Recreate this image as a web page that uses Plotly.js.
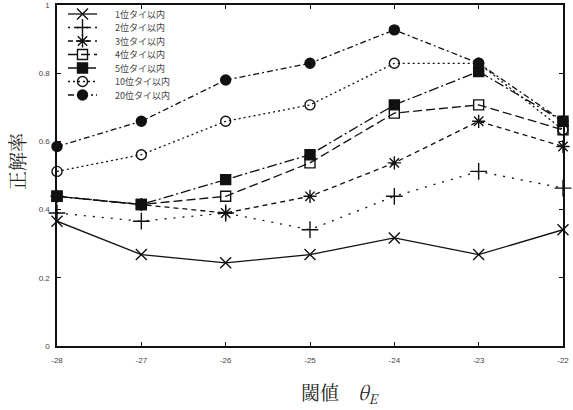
<!DOCTYPE html>
<html>
<head>
<meta charset="utf-8">
<script src="https://cdn.plot.ly/plotly-3.0.1.min.js"></script>
<style>
  html, body { margin: 0; padding: 0; background: #fff; }
  #chart { width: 573px; height: 410px; }
</style>
</head>
<body>
<div id="chart"></div>
<script>
// Threshold values on the x axis
const thresholds = [-28, -27, -26, -25, -24, -23, -22];
const thresholdLabels = ["-28", "-27", "-26", "-25", "-24", "-23", "-22"];

// Accuracy for each "within N-th place (ties)" criterion
const seriesNames = ["1位タイ以内", "2位タイ以内", "3位タイ以内", "4位タイ以内", "5位タイ以内", "10位タイ以内", "20位タイ以内"];
const rank1  = [0.366, 0.268, 0.244, 0.268, 0.317, 0.268, 0.341];
const rank2  = [0.390, 0.366, 0.390, 0.341, 0.439, 0.512, 0.463];
const rank3  = [0.439, 0.415, 0.390, 0.439, 0.537, 0.659, 0.585];
const rank4  = [0.439, 0.415, 0.439, 0.537, 0.683, 0.707, 0.634];
const rank5  = [0.439, 0.415, 0.488, 0.561, 0.707, 0.805, 0.659];
const rank10 = [0.512, 0.561, 0.659, 0.707, 0.829, 0.829, 0.634];
const rank20 = [0.585, 0.659, 0.780, 0.829, 0.927, 0.829, 0.659];
const seriesValues = [rank1, rank2, rank3, rank4, rank5, rank10, rank20];

const ink = "#111";
const styles = [
  { symbol: "x-thin-open",      size: 11, dash: "solid",            lw: 1.3 },
  { symbol: "cross-thin-open",  size: 12, dash: "2px,7px",          lw: 1.3 },
  { symbol: "asterisk-open",    size: 11, dash: "5px,4px",          lw: 1.3 },
  { symbol: "square-open",      size: 10, dash: "9px,4px",          lw: 1.3 },
  { symbol: "square",           size: 10, dash: "10px,3px,2px,3px", lw: 1.3 },
  { symbol: "circle-open",      size: 10, dash: "2px,3px",          lw: 1.3 },
  { symbol: "circle",           size: 10, dash: "6px,3px,2px,3px",  lw: 1.3 }
];

const traces = [];
seriesValues.forEach((vals, i) => {
  const s = styles[i];
  traces.push({
    type: "scatter", mode: "lines+markers", name: seriesNames[i],
    x: thresholds, y: vals, showlegend: false, cliponaxis: false,
    line: { color: ink, width: s.lw, dash: s.dash },
    marker: { symbol: s.symbol, size: s.size, color: ink,
              line: { color: ink, width: 1.4 } }
  });
});

// Key drawn in plot-pixel coordinates on an overlay axis pair
const keyX0 = 11, keyX1 = 40, keyXm = 25.5, keyText = 56, keyTop = 9, keyStep = 13.5;
const annotations = [];
seriesNames.forEach((name, i) => {
  const s = styles[i];
  const yy = keyTop + keyStep * i;
  traces.push({
    type: "scatter", mode: "lines", x: [keyX0, keyX1], y: [yy, yy],
    xaxis: "x2", yaxis: "y2", showlegend: false, hoverinfo: "skip",
    line: { color: ink, width: s.lw, dash: s.dash }
  });
  traces.push({
    type: "scatter", mode: "markers", x: [keyXm], y: [yy],
    xaxis: "x2", yaxis: "y2", showlegend: false, hoverinfo: "skip",
    marker: { symbol: s.symbol, size: s.size, color: ink,
              line: { color: ink, width: 1.4 } }
  });
  annotations.push({
    xref: "x2", yref: "y2", x: keyText, y: yy, xanchor: "left", yanchor: "middle",
    text: name, showarrow: false,
    font: { family: "Noto Sans CJK JP, sans-serif", size: 9, color: "#444" }
  });
});

// Axis titles
annotations.push({
  xref: "paper", yref: "paper", x: 0.478, y: -0.138, xanchor: "left", yanchor: "middle",
  text: "閾値　<i>θ</i><sub><i>E</i></sub>", showarrow: false,
  font: { family: "Noto Serif CJK JP, Noto Sans CJK JP, DejaVu Serif, serif", size: 19, color: "#222" }
});
annotations.push({
  xref: "paper", yref: "paper", x: -0.079, y: 0.54, xanchor: "center", yanchor: "middle",
  textangle: -90, text: "正解率", showarrow: false,
  font: { family: "Noto Serif CJK JP, Noto Sans CJK JP, serif", size: 19, color: "#222" }
});

const tickFont = { family: "Liberation Sans, Arial, sans-serif", size: 8, color: "#444" };

const layout = {
  width: 573, height: 410,
  margin: { l: 57, r: 10, t: 5, b: 64 },
  paper_bgcolor: "#fff", plot_bgcolor: "#fff",
  showlegend: false,
  xaxis: {
    range: [-28, -22], tickvals: thresholds, ticktext: thresholdLabels,
    ticks: "inside", ticklen: 4, tickwidth: 1, tickcolor: ink,
    showline: true, linecolor: ink, linewidth: 1.6, mirror: "ticks",
    showgrid: false, zeroline: false, tickfont: tickFont, ticklabelstandoff: 6
  },
  yaxis: {
    range: [0, 1], tickvals: [0, 0.2, 0.4, 0.6, 0.8, 1],
    ticktext: ["0", "0.2", "0.4", "0.6", "0.8", "1"],
    ticks: "inside", ticklen: 4, tickwidth: 1, tickcolor: ink,
    showline: true, linecolor: ink, linewidth: 1.6, mirror: "ticks",
    showgrid: false, zeroline: false, tickfont: tickFont, ticklabelstandoff: 4
  },
  xaxis2: { overlaying: "x", range: [0, 506], visible: false, fixedrange: true },
  yaxis2: { overlaying: "y", range: [341, 0], visible: false, fixedrange: true },
  annotations: annotations
};

Plotly.newPlot("chart", traces, layout, { staticPlot: true, displayModeBar: false });
</script>
</body>
</html>
